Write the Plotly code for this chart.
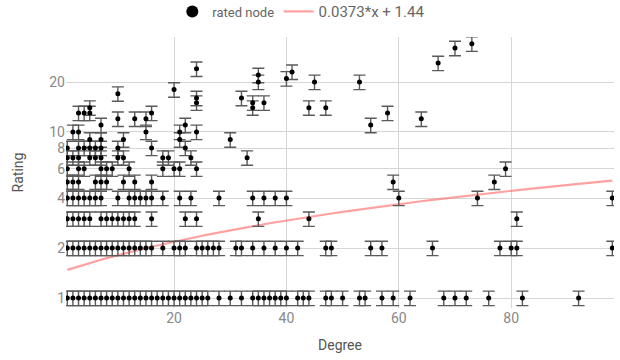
import plotly.graph_objects as go

# ---- data ----
rating_levels = [1, 2, 3, 4, 5, 6, 7, 8, 9, 10, 11, 12, 13, 14, 15, 16, 17, 18, 20, 21, 22, 23, 24, 26, 32, 34]
degrees_r1 = list(range(1, 27)) + [28, 30, 32, 34, 35, 36, 37, 38, 39, 40, 42, 43, 44, 47, 48, 50, 53, 54, 57, 59, 62, 68, 70, 72, 76, 82, 92]
degrees_r2 = list(range(1, 17)) + [18, 20, 21, 22, 24, 25, 26, 27, 28, 31, 32, 34, 36, 38, 40, 42, 47, 48, 55, 57, 66, 78, 80, 81, 98]
degrees_r3 = [1, 2, 3, 4, 5, 7, 8, 9, 10, 11, 12, 13, 16, 22, 24, 35, 44, 81]
degrees_r4 = [1, 2, 3, 4, 5, 6, 7, 10, 12, 13, 14, 15, 16, 18, 21, 23, 28, 34, 36, 38, 40, 60, 74, 98]
degrees_r5 = [1, 2, 3, 6, 7, 8, 11, 13, 16, 59, 77]
degrees_r6 = [1, 3, 4, 7, 8, 9, 12, 18, 20, 21, 24, 79]
degrees_r7 = [1, 2, 3, 5, 6, 7, 10, 11, 18, 19, 23, 33]
degrees_r8 = [1, 3, 4, 5, 6, 7, 10, 16, 22]
degrees_r9 = [5, 7, 11, 21, 30]
degrees_r10 = [2, 3, 15, 21, 24]
degrees_r11 = [7, 22, 55]
degrees_r12 = [10, 13, 15, 64]
degrees_r13 = [3, 4, 5, 16, 58]
degrees_r14 = [5, 34, 44, 47]
degrees_r15 = [24, 34, 36]
degrees_r16 = [24, 32]
degrees_r17 = [10]
degrees_r18 = [20]
degrees_r20 = [35, 45, 53]
degrees_r21 = [40]
degrees_r22 = [35]
degrees_r23 = [41]
degrees_r24 = [24]
degrees_r26 = [67]
degrees_r32 = [70]
degrees_r34 = [73]

degree_groups = [degrees_r1, degrees_r2, degrees_r3, degrees_r4, degrees_r5, degrees_r6,
                 degrees_r7, degrees_r8, degrees_r9, degrees_r10, degrees_r11, degrees_r12,
                 degrees_r13, degrees_r14, degrees_r15, degrees_r16, degrees_r17, degrees_r18,
                 degrees_r20, degrees_r21, degrees_r22, degrees_r23, degrees_r24, degrees_r26,
                 degrees_r32, degrees_r34]

error_percent = 10
fit_slope = 0.0373
fit_intercept = 1.44
legend_point = "rated node"
legend_fit = "0.0373*x + 1.44"
x_ticks = [20, 40, 60, 80]
y_ticks = [1, 2, 4, 6, 8, 10, 20]

degree = []
rating = []
for r, ds in zip(rating_levels, degree_groups):
    for d in ds:
        degree.append(d)
        rating.append(r)

fit_x = sorted(set(degree))
fit_y = [fit_slope * x + fit_intercept for x in fit_x]

fig = go.Figure()
fig.add_trace(go.Scatter(
    x=fit_x, y=fit_y, mode="lines", name=legend_fit, legend="legend2",
    line=dict(color="rgba(255,110,110,0.65)", width=2.2), hoverinfo="skip"))
fig.add_trace(go.Scatter(
    x=degree, y=rating, mode="markers", name=legend_point, showlegend=False,
    marker=dict(color="black", size=5),
    error_y=dict(type="percent", value=error_percent, color="#5a5a5a", thickness=1.4, width=6)))
fig.add_trace(go.Scatter(
    x=[None], y=[None], mode="markers", name=legend_point, legend="legend",
    marker=dict(color="black", size=12)))

fig.update_layout(
    width=620, height=360,
    margin=dict(l=66, r=6, t=37, b=52, autoexpand=False),
    paper_bgcolor="white", plot_bgcolor="white",
    font=dict(family="Roboto", size=13, color="#757575"),
    showlegend=True,
    legend=dict(orientation="h", x=0.194, xanchor="left", y=1.094, yanchor="middle",
                bgcolor="rgba(0,0,0,0)", font=dict(size=13, color="#666666")),
    legend2=dict(orientation="h", x=0.388, xanchor="left", y=1.094, yanchor="middle",
                 bgcolor="rgba(0,0,0,0)", font=dict(size=15, color="#666666")),
    xaxis=dict(range=[0.77, 98.3], tickvals=x_ticks, showgrid=True, gridcolor="#d6d6d6",
               zeroline=False, showline=False, ticks="", automargin=False,
               title=dict(text="Degree", font=dict(size=14, color="#555555"), standoff=15),
               tickfont=dict(size=14, color="#888888")),
    yaxis=dict(type="log", range=[-0.06, 1.572], tickvals=y_ticks, ticktext=[str(t) for t in y_ticks],
               showgrid=True, gridcolor="#d6d6d6", zeroline=False, showline=False, ticks="",
               automargin=False,
               title=dict(text="Rating", font=dict(size=14, color="#555555"), standoff=22),
               tickfont=dict(size=14, color="#888888")),
)

fig.write_html("out.html", config={"displayModeBar": False},
               post_script="document.body.style.margin='0';")
